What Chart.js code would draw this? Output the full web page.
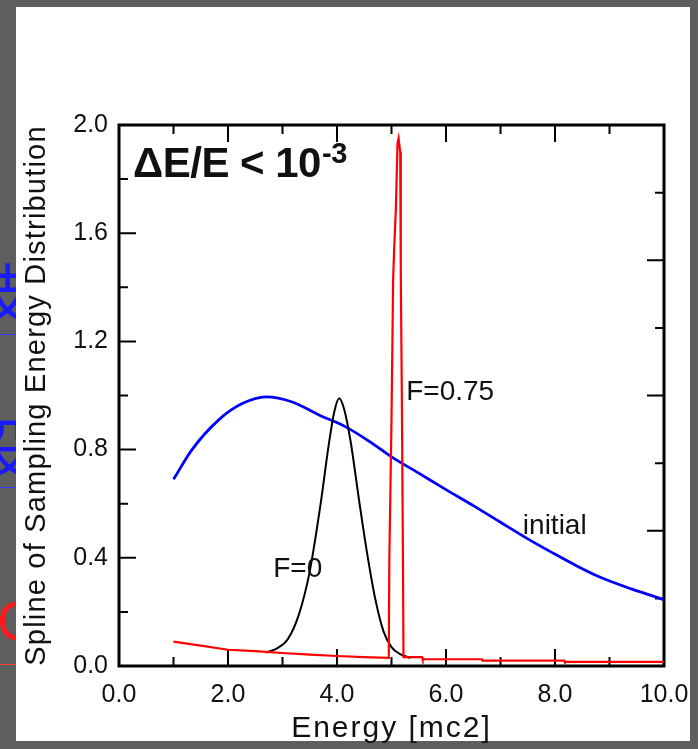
<!DOCTYPE html>
<html>
<head>
<meta charset="utf-8">
<script src="https://cdn.jsdelivr.net/npm/chart.js@4/dist/chart.umd.min.js"></script>
<style>
  html, body { margin: 0; padding: 0; }
  body { width: 698px; height: 749px; background: #5e5e5e; position: relative; overflow: hidden; }
  #strip { position: absolute; left: 0; top: 0; width: 16px; height: 749px; overflow: hidden; }
  #strip span { position: absolute; line-height: 1; font-family: 'Noto Sans CJK SC', sans-serif; }
  #strip i { position: absolute; left: 0; width: 16px; height: 1px; }
  #panel { position: absolute; left: 16px; top: 7px; width: 674px; height: 734px; background: #fff; }
  #chartBox { position: absolute; left: 0; top: 0; width: 698px; height: 749px; }
</style>
</head>
<body>
<div id="strip">
  <span style="left:-34px; top:257px; font-size:64px; color:#1a1aff;">技</span>
  <i style="top:334px; background:#3a3aff;"></i>
  <span style="left:-32px; top:412px; font-size:64px; color:#1a1aff;">设</span>
  <i style="top:487px; background:#3a3aff;"></i>
  <span style="left:-3px; top:593px; font-size:56px; color:#ff1a1a; font-family:'Liberation Sans', sans-serif;">C</span>
  <i style="top:664px; background:#ff3a3a;"></i>
</div>
<div id="panel"></div>
<div id="chartBox"><canvas id="myChart" width="698" height="749"></canvas></div>
<script>
// initial distribution (blue)
const initialEnergy = [1.0, 1.34, 1.83, 2.26, 2.7, 3.18, 3.67, 4.16, 4.64, 5.0, 5.5, 6.0, 6.5, 6.97, 7.5, 7.94, 8.4, 8.81, 9.4, 10.0];
const initialValue = [0.69, 0.80, 0.91, 0.97, 0.995, 0.976, 0.928, 0.884, 0.824, 0.773, 0.713, 0.652, 0.593, 0.535, 0.47, 0.42, 0.37, 0.33, 0.285, 0.245];

// F=0 (black)
const f0Energy = [2.7, 2.9, 3.1, 3.3, 3.5, 3.7, 3.85, 3.95, 4.04, 4.13, 4.25, 4.4, 4.55, 4.7, 4.85, 5.0, 5.15, 5.35];
const f0Value = [0.05, 0.065, 0.1, 0.19, 0.35, 0.6, 0.82, 0.94, 0.99, 0.95, 0.83, 0.62, 0.42, 0.25, 0.13, 0.07, 0.045, 0.03];

// F=0.75 (red)
const f75Energy = [1.0, 1.5, 2.0, 2.5, 3.0, 3.5, 4.0, 4.5, 4.95, 4.96, 4.98, 5.0, 5.03, 5.05, 5.08, 5.11, 5.13, 5.16, 5.17, 5.19, 5.21, 5.22, 5.56, 5.57, 6.66, 6.67, 8.17, 8.18, 10.0];
const f75Value = [0.09, 0.075, 0.06, 0.055, 0.048, 0.042, 0.037, 0.033, 0.03, 0.39, 0.65, 0.91, 1.43, 1.55, 1.69, 1.93, 1.95, 1.9, 1.46, 0.99, 0.4, 0.033, 0.033, 0.025, 0.025, 0.02, 0.02, 0.015, 0.015];

// tick marks
const xMajor = [0, 2, 4, 6, 8, 10];
const xMinor = [1, 3, 5, 7, 9];
const yLeftMajor = [0, 0.4, 0.8, 1.2, 1.6, 2.0];
const yLeftMinor = [0.2, 0.6, 1.0, 1.4, 1.8];
const yRightMajor = [0, 0.5, 1.0, 1.5, 2.0];
const yRightMinor = [0.25, 0.75, 1.25, 1.75];

const xTitle = 'Energy [mc2]';
const yTitle = 'Spline of Sampling Energy Distribution';

const toPoints = (xs, ys) => xs.map((x, i) => ({ x: x, y: ys[i] }));

Chart.defaults.font.family = "'Liberation Sans', Arial, sans-serif";
Chart.defaults.color = '#111';

// frame + inward ticks on all four sides, notes and axis titles
const frameTicks = {
  id: 'frameTicks',
  beforeDatasetsDraw(chart) {
    const { ctx, chartArea: { left, right, top, bottom }, scales: { x, y } } = chart;
    ctx.save();
    ctx.strokeStyle = '#000';
    ctx.lineWidth = 2;
    const big = 17, small = 9;
    ctx.beginPath();
    xMajor.forEach(v => { const px = x.getPixelForValue(v); ctx.moveTo(px, bottom); ctx.lineTo(px, bottom - big); ctx.moveTo(px, top); ctx.lineTo(px, top + big); });
    xMinor.forEach(v => { const px = x.getPixelForValue(v); ctx.moveTo(px, bottom); ctx.lineTo(px, bottom - small); ctx.moveTo(px, top); ctx.lineTo(px, top + small); });
    yLeftMajor.forEach(v => { const py = y.getPixelForValue(v); ctx.moveTo(left, py); ctx.lineTo(left + big, py); });
    yLeftMinor.forEach(v => { const py = y.getPixelForValue(v); ctx.moveTo(left, py); ctx.lineTo(left + small, py); });
    yRightMajor.forEach(v => { const py = y.getPixelForValue(v); ctx.moveTo(right, py); ctx.lineTo(right - big, py); });
    yRightMinor.forEach(v => { const py = y.getPixelForValue(v); ctx.moveTo(right, py); ctx.lineTo(right - small, py); });
    ctx.stroke();
    ctx.lineWidth = 3;
    ctx.strokeRect(left, top, right - left, bottom - top);
    ctx.restore();
  },
  afterDatasetsDraw(chart) {
    const { ctx, chartArea: { left, right, top, bottom }, scales: { x, y } } = chart;
    ctx.save();
    ctx.fillStyle = '#111';
    ctx.textBaseline = 'alphabetic';
    ctx.textAlign = 'left';

    // big bold note with superscript
    ctx.font = "bold 42px 'Liberation Sans', Arial, sans-serif";
    ctx.letterSpacing = '-0.5px';
    const main = '\u0394E/E < 10';
    const nx = x.getPixelForValue(0.257), ny = y.getPixelForValue(1.808);
    ctx.fillText(main, nx, ny);
    const w = ctx.measureText(main).width;
    ctx.font = "bold 29px 'Liberation Sans', Arial, sans-serif";
    ctx.fillText('-3', nx + w + 1, ny - 14);
    ctx.letterSpacing = '0px';

    ctx.font = "28px 'Liberation Sans', Arial, sans-serif";
    ctx.fillText('F=0.75', x.getPixelForValue(5.27), y.getPixelForValue(0.983));
    ctx.fillText('F=0', x.getPixelForValue(2.83), y.getPixelForValue(0.329));
    ctx.fillText('initial', x.getPixelForValue(7.41), y.getPixelForValue(0.488));

    // axis titles
    ctx.font = "30px 'Liberation Sans', Arial, sans-serif";
    ctx.letterSpacing = '2px';
    ctx.textAlign = 'center';
    ctx.fillText(xTitle, (left + right) / 2, 737);
    ctx.font = "29px 'Liberation Sans', Arial, sans-serif";
    ctx.letterSpacing = '1.2px';
    ctx.translate(45, (top + bottom) / 2);
    ctx.rotate(-Math.PI / 2);
    ctx.fillText(yTitle, 0, 0);
    ctx.restore();
  }
};

const ctx = document.getElementById('myChart').getContext('2d');
const myChart = new Chart(ctx, {
  type: 'line',
  data: {
    datasets: [
      {
        label: 'F=0.75',
        data: toPoints(f75Energy, f75Value),
        borderColor: '#ff0000',
        borderWidth: 2.2,
        tension: 0,
        pointRadius: 0
      },
      {
        label: 'F=0',
        data: toPoints(f0Energy, f0Value),
        borderColor: '#000000',
        borderWidth: 2,
        cubicInterpolationMode: 'monotone',
        pointRadius: 0
      },
      {
        label: 'initial',
        data: toPoints(initialEnergy, initialValue),
        borderColor: '#0000ff',
        borderWidth: 2.8,
        cubicInterpolationMode: 'monotone',
        pointRadius: 0
      }
    ]
  },
  options: {
    responsive: false,
    animation: false,
    layout: { padding: { left: 0, top: 125, right: 34, bottom: 0 } },
    plugins: { legend: { display: false }, tooltip: { enabled: false } },
    scales: {
      x: {
        type: 'linear',
        min: 0,
        max: 10,
        grid: { display: false },
        border: { display: false },
        ticks: {
          stepSize: 2,
          padding: 6,
          maxRotation: 0,
          font: { size: 25 },
          callback: (v) => Number(v).toFixed(1)
        },
        afterFit: (scale) => { scale.height = 83; }
      },
      y: {
        min: 0,
        max: 2,
        grid: { display: false },
        border: { display: false },
        ticks: {
          stepSize: 0.4,
          padding: 3,
          font: { size: 25 },
          callback: (v) => Number(v).toFixed(1)
        },
        afterFit: (scale) => { scale.width = 119; }
      }
    }
  },
  plugins: [frameTicks]
});
</script>
</body>
</html>
